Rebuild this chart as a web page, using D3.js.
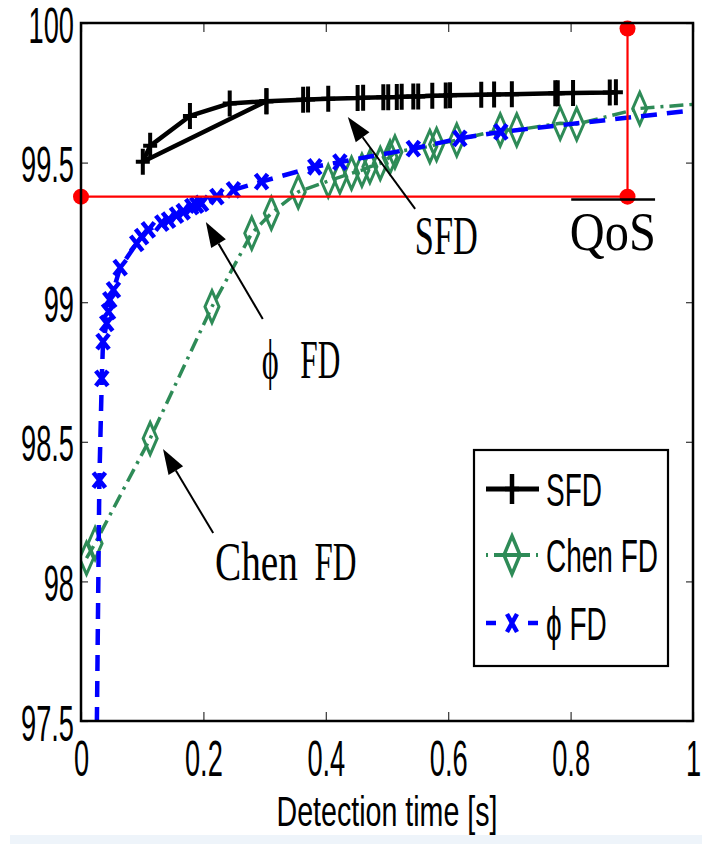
<!DOCTYPE html>
<html>
<head>
<meta charset="utf-8">
<script src="https://cdn.jsdelivr.net/npm/d3@7"></script>
<style>
  body { margin: 0; background: #fff; }
</style>
</head>
<body>
<svg id="chart" width="702" height="844"></svg>
<script>
// ---- data: [detection time (s), accuracy (%)] ----
const sfdData = [
  [0.303, 99.720], [0.243, 99.712], [0.178, 99.667], [0.113, 99.560], [0.101, 99.503],
  [0.303, 99.720], [0.363, 99.725], [0.371, 99.726], [0.404, 99.729], [0.452, 99.731],
  [0.461, 99.732], [0.494, 99.734], [0.502, 99.734], [0.516, 99.735], [0.524, 99.736],
  [0.543, 99.737], [0.551, 99.737], [0.574, 99.739], [0.596, 99.740], [0.603, 99.741],
  [0.654, 99.743], [0.675, 99.744], [0.704, 99.745], [0.775, 99.748], [0.779, 99.748],
  [0.804, 99.749], [0.864, 99.751], [0.874, 99.752]
];
const chenData = [
  [0.009, 98.083], [0.023, 98.136], [0.113, 98.512], [0.214, 98.984], [0.279, 99.247],
  [0.311, 99.319], [0.355, 99.395], [0.404, 99.434], [0.423, 99.448], [0.442, 99.462],
  [0.459, 99.473], [0.472, 99.485], [0.489, 99.497], [0.505, 99.520], [0.513, 99.538],
  [0.570, 99.558], [0.581, 99.565], [0.614, 99.581], [0.685, 99.617], [0.712, 99.617],
  [0.783, 99.641], [0.810, 99.638], [0.913, 99.694], [1.020, 99.712]
];
const phiData = [
  [0.0255, 97.40], [0.030, 98.363], [0.034, 98.727], [0.036, 98.859], [0.042, 98.924],
  [0.045, 98.966], [0.047, 99.008], [0.053, 99.044], [0.064, 99.124], [0.091, 99.211],
  [0.099, 99.235], [0.110, 99.259], [0.132, 99.283], [0.143, 99.294], [0.156, 99.312],
  [0.167, 99.324], [0.181, 99.342], [0.189, 99.348], [0.197, 99.354], [0.222, 99.378],
  [0.249, 99.402], [0.295, 99.432], [0.382, 99.485], [0.423, 99.502], [0.543, 99.550],
  [0.619, 99.587], [0.686, 99.610], [1.020, 99.692]
];
// QoS requirement corner (red)
const qosPoints = [[0, 99.378], [0.893, 99.378], [0.893, 99.98]];
const qosBar = [[0.801, 99.368], [0.938, 99.368]];

const xTicks = [0, 0.2, 0.4, 0.6, 0.8, 1];
const yTicks = [97.5, 98, 98.5, 99, 99.5, 100];
const xLabel = 'Detection time [s]';
const legendLabels = ['SFD', 'Chen FD', 'ϕ FD'];

// annotations: label pieces, label anchor, arrow tail, arrow tip (data units)
const notes = [
  { parts: [['SFD', 0, 63]],                 at: [0.597, 99.173], from: [0.546, 99.334], to: [0.436, 99.663] },
  { parts: [['ϕ', -31, 17], ['FD', 19, 40]], at: [0.360, 98.728], from: [0.297, 98.940], to: [0.204, 99.287] },
  { parts: [['Chen', -29, 83], ['FD', 50, 42]], at: [0.334, 98.005], from: [0.216, 98.173], to: [0.134, 98.474] }
];

// ---- setup ----
const SANS = '"Liberation Sans", Arial, Helvetica, sans-serif';
const SERIF = '"Liberation Serif", "Times New Roman", "DejaVu Serif", serif';
const BLUE = '#0000ff', GREEN = '#2e8b57', RED = '#ff0000';

const svg = d3.select('#chart');

const x = d3.scaleLinear().domain([0, 1]).range([81, 693]);
const y = d3.scaleLinear().domain([97.5, 100]).range([721, 23]);

// light strip at the very bottom of the scan
svg.append('rect').attr('x', 10).attr('y', 835).attr('width', 692).attr('height', 9).attr('fill', '#eef4fa');

function measure(str, family, size) {
  const t = svg.append('text').attr('font-family', family).attr('font-size', size).text(str);
  const w = t.node().getComputedTextLength();
  t.remove();
  return w;
}

// text squeezed horizontally like the original figure
function fitText(parent, str, px, py, o) {
  const t = parent.append('text')
    .attr('font-family', o.family)
    .attr('font-size', o.size)
    .attr('text-anchor', o.anchor || 'start')
    .attr('fill', '#000')
    .text(str);
  const k = o.k || o.width / t.node().getComputedTextLength();
  t.attr('transform', `translate(${px},${py}) scale(${k},1)`);
  return t;
}

const kTick = 53 / measure('99.5', SANS, 50);

// ---- axes ----
const xAxis = svg.append('g')
  .attr('transform', `translate(0,${y(97.5)})`)
  .call(d3.axisBottom(x).tickValues(xTicks).tickSize(-9).tickSizeOuter(0).tickFormat(d => String(d)));
const yAxis = svg.append('g')
  .attr('transform', `translate(${x(0)},0)`)
  .call(d3.axisLeft(y).tickValues(yTicks).tickSize(-7).tickSizeOuter(0).tickFormat(d => String(d)));
const xTop = svg.append('g')
  .attr('transform', `translate(0,${y(100)})`)
  .call(d3.axisTop(x).tickValues(xTicks).tickSize(-9).tickSizeOuter(0).tickFormat(''));
const yRight = svg.append('g')
  .attr('transform', `translate(${x(1)},0)`)
  .call(d3.axisRight(y).tickValues(yTicks).tickSize(-7).tickSizeOuter(0).tickFormat(''));

[xAxis, yAxis, xTop, yRight].forEach(a => {
  a.select('.domain').remove();
  a.selectAll('line').attr('stroke', '#333').attr('stroke-width', 1.2);
});
xAxis.selectAll('text')
  .attr('y', null).attr('dy', null)
  .attr('font-size', 50).attr('font-family', SANS).attr('fill', '#000')
  .attr('transform', `translate(0,55) scale(${kTick},1)`);
yAxis.selectAll('text')
  .attr('x', null).attr('dy', null)
  .attr('font-size', 50).attr('font-family', SANS).attr('fill', '#000')
  .attr('transform', `translate(-7,19) scale(${kTick},1)`);

fitText(svg, xLabel, (x(0) + x(1)) / 2, 826, { family: SANS, size: 42, width: 221, anchor: 'middle' });

// ---- data ----
svg.append('defs').append('clipPath').attr('id', 'plot-clip')
  .append('rect').attr('x', x(0)).attr('y', y(100)).attr('width', x(1) - x(0)).attr('height', y(97.5) - y(100));

const plot = svg.append('g').attr('clip-path', 'url(#plot-clip)');
const line = d3.line().x(d => x(d[0])).y(d => y(d[1]));

const PLUS = 'M-7,0H7M0,-13V13';
const DIAMOND = 'M0,-16L7,0L0,16L-7,0Z';
const CROSS = 'M-6,-7.5L6,7.5M-6,7.5L6,-7.5';

const series = [
  { data: chenData, color: GREEN, width: 3.5, dash: '14,6,3,6', marker: DIAMOND, mw: 3 },
  { data: phiData,  color: BLUE,  width: 4.5, dash: '16,10',    marker: CROSS,   mw: 4.5 },
  { data: sfdData,  color: '#000', width: 4.5, dash: null,      marker: PLUS,    mw: 4 }
];

series.forEach(s => {
  plot.append('path')
    .datum(s.data)
    .attr('d', line)
    .attr('fill', 'none')
    .attr('stroke', s.color)
    .attr('stroke-width', s.width)
    .attr('stroke-dasharray', s.dash)
    .attr('stroke-linejoin', 'round');
  plot.append('g')
    .selectAll('path')
    .data(s.data)
    .join('path')
    .attr('transform', d => `translate(${x(d[0])},${y(d[1])})`)
    .attr('d', s.marker)
    .attr('fill', 'none')
    .attr('stroke', s.color)
    .attr('stroke-width', s.mw);
});

// ---- QoS corner ----
svg.append('path')
  .datum(qosPoints)
  .attr('d', line)
  .attr('fill', 'none')
  .attr('stroke', RED)
  .attr('stroke-width', 2.2);
svg.append('g')
  .selectAll('circle')
  .data(qosPoints)
  .join('circle')
  .attr('cx', d => x(d[0]))
  .attr('cy', d => y(d[1]))
  .attr('r', 8)
  .attr('fill', RED);
svg.append('path')
  .datum(qosBar)
  .attr('d', line)
  .attr('stroke', '#000')
  .attr('stroke-width', 2.5);
fitText(svg, 'QoS', x(0.869), y(99.187), { family: SERIF, size: 54, width: 86, anchor: 'middle' });

// ---- annotations ----
notes.forEach(n => {
  const x1 = x(n.from[0]), y1 = y(n.from[1]);
  const x2 = x(n.to[0]), y2 = y(n.to[1]);
  const a = Math.atan2(y2 - y1, x2 - x1);
  const len = 25, half = 8.5;
  const bx = x2 - len * Math.cos(a), by = y2 - len * Math.sin(a);
  svg.append('line')
    .attr('x1', x1).attr('y1', y1).attr('x2', bx).attr('y2', by)
    .attr('stroke', '#000').attr('stroke-width', 2);
  svg.append('path')
    .attr('d', `M${x2},${y2}L${bx + half * Math.sin(a)},${by - half * Math.cos(a)}L${bx - half * Math.sin(a)},${by + half * Math.cos(a)}Z`)
    .attr('fill', '#000');
  n.parts.forEach(([str, dx, w]) => {
    fitText(svg, str, x(n.at[0]) + dx, y(n.at[1]), { family: SERIF, size: 54, width: w, anchor: 'middle' });
  });
});

// ---- legend ----
const legend = svg.append('g');
legend.append('rect')
  .attr('x', 474).attr('y', 450).attr('width', 194).attr('height', 216)
  .attr('fill', '#fff').attr('stroke', '#000').attr('stroke-width', 2.2);

const legendRows = [
  { y: 489, color: '#000', width: 5,   dash: null,          marker: 'M-7,0H7M0,-15V15',        mw: 4.5 },
  { y: 555, color: GREEN,  width: 4,   dash: '2,6,36,6,2',  marker: 'M0,-19L8,0L0,19L-8,0Z',  mw: 3.5 },
  { y: 623, color: BLUE,   width: 4.5, dash: '10,32',       marker: 'M-5,-9L5,9M-5,9L5,-9',   mw: 4.5 }
];
const kLegend = 112 / measure('Chen FD', SANS, 46);
legendRows.forEach((r, i) => {
  legend.append('line')
    .attr('x1', 486).attr('x2', 539).attr('y1', r.y).attr('y2', r.y)
    .attr('stroke', r.color).attr('stroke-width', r.width)
    .attr('stroke-dasharray', r.dash);
  legend.append('path')
    .attr('transform', `translate(512,${r.y})`)
    .attr('d', r.marker)
    .attr('fill', 'none')
    .attr('stroke', r.color)
    .attr('stroke-width', r.mw);
  fitText(legend, legendLabels[i], 546, r.y + 17, { family: SANS, size: 46, k: kLegend });
});

// ---- frame ----
svg.append('rect')
  .attr('x', x(0)).attr('y', y(100))
  .attr('width', x(1) - x(0)).attr('height', y(97.5) - y(100))
  .attr('fill', 'none').attr('stroke', '#000').attr('stroke-width', 2.5);
</script>
</body>
</html>
